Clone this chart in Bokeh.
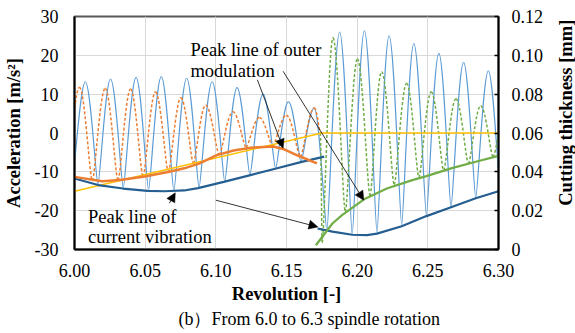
import numpy as np
from bokeh.plotting import figure
from bokeh.layouts import row
from bokeh.models import Range1d, LinearAxis, FixedTicker, Label, Arrow, NormalHead, NumeralTickFormatter, Title
from bokeh.embed import file_html
from bokeh.resources import INLINE

# ---------------- data ----------------
# acceleration signal: successive extremes (revolution, m/s^2)
accel_rev = [5.9986, 6.0077, 6.0166, 6.0255, 6.0345, 6.0436, 6.0524, 6.0614, 6.0703, 6.0794,
             6.0881, 6.0974, 6.1063, 6.1150, 6.1241, 6.1334, 6.1423, 6.1514, 6.1603, 6.1696,
             6.1786, 6.1876, 6.1965, 6.2051, 6.2140, 6.2226, 6.2315, 6.2401, 6.2490, 6.2578,
             6.2664, 6.2753, 6.2839, 6.2928, 6.3014]
accel_val = [-11.3, 13.2, -13.3, 13.9, -14.2, 14.3, -14.8, 14.5, -14.9, 14.1,
             -14.2, 13.2, -12.6, 11.7, -10.9, 10.0, -9.2, 8.1, -7.5, 6.4,
             -25.2, 26.0, -26.3, 26.3, -25.7, 25.0, -23.8, 23.0, -21.3, 20.5,
             -19.2, 18.2, -16.8, 16.0, -15.0]

# cutting thickness before regeneration (orange dashed), extremes (rev, mm)
thick1_rev = [5.9944, 6.0035, 6.0126, 6.0217, 6.0308, 6.0397, 6.0485, 6.0573, 6.0664, 6.0753,
              6.0841, 6.0928, 6.1024, 6.1121, 6.1214, 6.1308, 6.1403, 6.1499, 6.1598, 6.1697, 6.1741]
thick1_val = [0.0370, 0.0836, 0.0354, 0.0830, 0.0356, 0.0826, 0.0374, 0.0812, 0.0398, 0.0782,
              0.0444, 0.0744, 0.0488, 0.0710, 0.0526, 0.0680, 0.0532, 0.0692, 0.0478, 0.0730, 0.0600]

# cutting thickness after (green dashed), extremes (rev, mm)
thick2_rev = [6.1739, 6.1752, 6.1829, 6.1916, 6.2002, 6.2091, 6.2173, 6.2262, 6.2350, 6.2437,
              6.2524, 6.2612, 6.2699, 6.2787, 6.2874, 6.2962, 6.3049]
thick2_val = [0.0600, 0.0034, 0.1090, 0.0194, 0.0982, 0.0276, 0.0916, 0.0334, 0.0856, 0.0370,
              0.0812, 0.0408, 0.0776, 0.0442, 0.0740, 0.0476, 0.0710]

# peak line of current vibration (dark blue), m/s^2
vib1_rev = [6.000, 6.0168, 6.0343, 6.0517, 6.0636, 6.0776, 6.0874, 6.1056, 6.1238, 6.1420, 6.1601, 6.1767]
vib1_val = [-11.7, -13.4, -14.3, -14.9, -15.0, -14.8, -14.2, -12.6, -10.9, -9.2, -7.5, -6.1]
vib2_rev = [6.1720, 6.1825, 6.1965, 6.2070, 6.2140, 6.2315, 6.2490, 6.2664, 6.2839, 6.3000]
vib2_val = [-24.6, -25.4, -26.2, -26.3, -25.9, -24.0, -21.4, -19.1, -16.8, -15.0]

# peak lines of outer modulation (mm)
mod1_rev = [6.000, 6.0196, 6.0322, 6.0497, 6.0671, 6.0776, 6.0881, 6.1007, 6.1126, 6.1245,
            6.1406, 6.1476, 6.1580, 6.1715]
mod1_val = [0.0374, 0.0352, 0.0358, 0.0376, 0.0400, 0.0418, 0.0442, 0.0486, 0.0510, 0.0524,
            0.0530, 0.0518, 0.0484, 0.0444]
mod2_rev = [6.1708, 6.1825, 6.1895, 6.2056, 6.2210, 6.2385, 6.2490, 6.2664, 6.2839, 6.3000]
mod2_val = [0.0022, 0.0134, 0.0178, 0.0262, 0.0314, 0.0356, 0.0378, 0.0418, 0.0452, 0.0482]

# mean cutting thickness (yellow), mm
mean_rev = [6.000, 6.175, 6.300]
mean_val = [0.030, 0.060, 0.060]

x_ticks = [6.00, 6.05, 6.10, 6.15, 6.20, 6.25, 6.30]
y_ticks = [-30, -20, -10, 0, 10, 20, 30]
y_tick_labels = {-30: "-30", -20: "-20", -10: "-10", 0: "0", 10: "10", 20: "20", 30: "30"}
y2_ticks = [0, 0.02, 0.04, 0.06, 0.08, 0.10, 0.12]

# annotation anchors (rev, m/s^2)
ann_outer = [("Peak line of outer", 6.0820, 21.4), ("modulation", 6.0820, 15.9)]
ann_curr = [("Peak line of", 6.0095, -21.7), ("current vibration", 6.0095, -26.8)]
arrows = [(6.1294, 13.7, 6.1476, -3.9), (6.1476, 15.9, 6.2047, -17.3),
          (6.0671, -18.1, 6.0713, -15.4), (6.1000, -17.3, 6.1722, -24.2)]
caption = "(b\uff09From 6.0 to 6.3 spindle rotation"
right_title = "Cutting thickness [mm]"

SERIF = "Liberation Serif"

# ---------------- main figure ----------------
p = figure(width=555, height=333, x_range=Range1d(6.0, 6.3), y_range=Range1d(-30, 30),
           output_backend="svg", toolbar_location=None,
           min_border_left=69, min_border_right=57, min_border_top=16, min_border_bottom=84)
p.extra_y_ranges = {"th": Range1d(0, 0.12)}
p.background_fill_color = "white"
p.border_fill_color = "white"
p.outline_line_color = "#595959"
p.outline_line_width = 2

p.xgrid.ticker = FixedTicker(ticks=x_ticks)
p.ygrid.ticker = FixedTicker(ticks=y_ticks)
for g in (p.xgrid, p.ygrid):
    g.grid_line_color = "#D9D9D9"
    g.grid_line_width = 1

xa = p.xaxis[0]
xa.ticker = FixedTicker(ticks=x_ticks)
xa.formatter = NumeralTickFormatter(format="0.00")
xa.axis_label = "Revolution [-]"
ya = p.yaxis[0]
ya.ticker = FixedTicker(ticks=y_ticks)
ya.major_label_overrides = y_tick_labels
ya.axis_label = "Acceleration [m/s\u00b2]"

ra = LinearAxis(y_range_name="th", ticker=FixedTicker(ticks=y2_ticks),
                formatter=NumeralTickFormatter(format="0.00"))
ra.major_label_overrides = {0: "0"}
p.add_layout(ra, "right")

for ax in (xa, ya, ra):
    ax.axis_line_color = "black"
    ax.axis_line_width = 2
    ax.major_tick_out = 0
    ax.major_tick_in = 0
    ax.minor_tick_out = 0
    ax.minor_tick_in = 0
    ax.major_label_text_font = SERIF
    ax.major_label_text_font_size = "18px"
    ax.major_label_text_color = "black"
    ax.axis_label_text_font = SERIF
    ax.axis_label_text_font_style = "bold"
    ax.axis_label_text_font_size = "18.5px"
    ax.axis_label_text_color = "black"
ra.major_tick_in = 4
ra.major_tick_line_width = 1.5
ra.major_tick_line_color = "black"
xa.major_label_standoff = 14
xa.axis_label_standoff = 4
ya.major_label_standoff = 16
ya.axis_label_standoff = 8
ra.major_label_standoff = 13

p.add_layout(Title(text=caption, align="left", offset=104, standoff=0, text_font=SERIF,
                   text_font_size="18px", text_font_style="normal", text_color="black"), "below")


def wave(xs, ys, a_hi, a_lo):
    xs = np.asarray(xs, float)
    ys = np.asarray(ys, float)
    x0, x1, y0, y1 = xs[:-1], xs[1:], ys[:-1], ys[1:]
    dx = x1 - x0
    a0 = np.where(y0 > y1, a_hi, a_lo)
    a1 = np.where(y1 > y0, a_hi, a_lo)
    return dict(x0=x0, y0=y0, x1=x1, y1=y1, cx0=x0 + a0 * dx, cy0=y0, cx1=x1 - a1 * dx, cy1=y1)


BLUE = "#5B9BD5"
ORANGE = "#ED7D31"
GREEN = "#70AD47"
YELLOW = "#FFC000"
NAVY = "#255E91"

p.bezier(**wave(accel_rev, accel_val, 0.40, 0.15), line_color=BLUE, line_width=1.2)
p.bezier(**wave(thick1_rev, thick1_val, 0.40, 0.2), line_color=ORANGE, line_width=1.5,
         line_dash="3 2", y_range_name="th")
p.bezier(**wave(thick2_rev, thick2_val, 0.40, 0.2), line_color=GREEN, line_width=1.5,
         line_dash="3 2", y_range_name="th")
p.line(mean_rev, mean_val, line_color=YELLOW, line_width=1.6, y_range_name="th")
p.line(vib1_rev, vib1_val, line_color=NAVY, line_width=2.2)
p.line(vib2_rev, vib2_val, line_color=NAVY, line_width=2.2)
p.line(mod1_rev, mod1_val, line_color=ORANGE, line_width=2.5, y_range_name="th")
p.line(mod2_rev, mod2_val, line_color=GREEN, line_width=2.2, y_range_name="th")

for (xs, ys, xe, ye) in arrows:
    p.add_layout(Arrow(x_start=xs, y_start=ys, x_end=xe, y_end=ye, line_color="black", line_width=0.8,
                       end=NormalHead(size=9, fill_color="black", line_color="black", line_width=0.5)))

for txt, x, y in ann_outer + ann_curr:
    p.add_layout(Label(x=x, y=y, text=txt, text_font=SERIF, text_font_size="18.5px",
                       text_color="black", text_baseline="alphabetic", text_align="left"))

# ---------------- narrow strip holding the right-hand axis title (reads bottom-up) ----------------
s = figure(width=20, height=333, x_range=Range1d(0, 1), y_range=Range1d(0, 1),
           output_backend="svg", toolbar_location=None, x_axis_location=None, y_axis_location=None,
           min_border_left=0, min_border_right=0, min_border_top=0, min_border_bottom=0)
s.grid.visible = False
s.outline_line_color = None
s.background_fill_color = "white"
s.border_fill_color = "white"
s.add_layout(Label(x=0.5, y=0.587, text=right_title, angle=np.pi / 2, text_font=SERIF,
                   text_font_size="18.5px", text_font_style="bold", text_color="black",
                   text_align="center", text_baseline="middle"))

layout = row(p, s, spacing=0)
open("out.html", "w").write(file_html(layout, INLINE))
